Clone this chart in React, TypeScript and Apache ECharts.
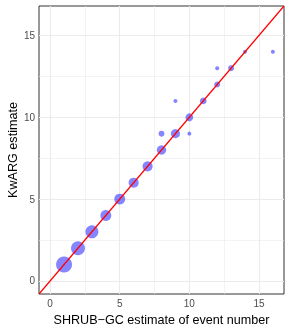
import React, { useEffect, useRef } from "react";
import * as echarts from "echarts";

const shrubGC = [1, 2, 3, 4, 5, 6, 7, 8, 8, 9, 9, 10, 10, 11, 12, 12, 13, 14, 16];
const kwarg = [1, 2, 3, 4, 5, 6, 7, 8, 9, 9, 11, 10, 9, 11, 12, 13, 13, 14, 14];
const counts = [40, 28, 23, 14, 14, 11, 11, 9, 2, 8, 1, 5, 1, 3, 2, 1, 2, 1, 1];
const tickValues = [0, 5, 10, 15];
const minorValues = [2.5, 7.5, 12.5];
const axisMin = -0.8;
const axisMax = 16.8;

const maxCount = Math.max(...counts);
const sizeOf = (c: number) => 4 + 12 * Math.sqrt((c - 1) / (maxCount - 1));

export default function App() {
  const ref = useRef<HTMLDivElement>(null);
  useEffect(() => {
    if (!ref.current) return;
    const chart = echarts.init(ref.current, undefined, { renderer: "svg" });
    const gridLines = (vals: number[], width: number) => [
      ...vals.map((v) => ({ xAxis: v, lineStyle: { color: "#EBEBEB", width, type: "solid" } })),
      ...vals.map((v) => ({ yAxis: v, lineStyle: { color: "#EBEBEB", width, type: "solid" } })),
    ];
    const axisCommon = {
      type: "value",
      min: axisMin,
      max: axisMax,
      axisLine: { show: false },
      splitLine: { show: false },
      axisTick: {
        show: true,
        customValues: tickValues,
        length: 3,
        lineStyle: { color: "#333333", width: 1 },
      },
      axisLabel: {
        customValues: tickValues,
        color: "#4D4D4D",
        fontSize: 10,
        fontFamily: "Liberation Sans, Arial, sans-serif",
        margin: 4,
      },
      nameLocation: "middle",
      nameMoveOverlap: false,
      nameTextStyle: {
        color: "#000000",
        fontSize: 12.6,
        fontFamily: "Liberation Sans, Arial, sans-serif",
      },
    };
    chart.setOption({
      animation: false,
      grid: {
        left: 39,
        right: 7,
        top: 6,
        bottom: 38,
        containLabel: false,
        outerBoundsMode: "none",
        show: true,
        borderColor: "#333333",
        borderWidth: 1,
        backgroundColor: "#FFFFFF",
      },
      xAxis: { ...axisCommon, name: "SHRUB\u2212GC estimate of event number", nameGap: 19 },
      yAxis: { ...axisCommon, name: "KwARG estimate", nameGap: 20, nameRotate: 90 },
      series: [
        {
          type: "line",
          data: [],
          silent: true,
          z: 1,
          markLine: {
            silent: true,
            z: 1,
            symbol: "none",
            label: { show: false },
            data: [...gridLines(minorValues, 0.6), ...gridLines(tickValues, 1.1)],
          },
        },
        {
          type: "scatter",
          data: shrubGC.map((x, i) => [x, kwarg[i], counts[i]]),
          symbolSize: (d: number[]) => sizeOf(d[2]),
          itemStyle: { color: "rgba(0,0,255,0.6)" },
          z: 8,
        },
        {
          type: "line",
          data: [
            [axisMin, axisMin],
            [axisMax, axisMax],
          ],
          symbol: "none",
          lineStyle: { color: "#FF0000", width: 1.2 },
          z: 9,
          silent: true,
        },
      ],
    });
    return () => chart.dispose();
  }, []);
  return (
    <div
      ref={ref}
      style={{ position: "fixed", left: 0, top: 0, width: 291, height: 332 }}
    />
  );
}
